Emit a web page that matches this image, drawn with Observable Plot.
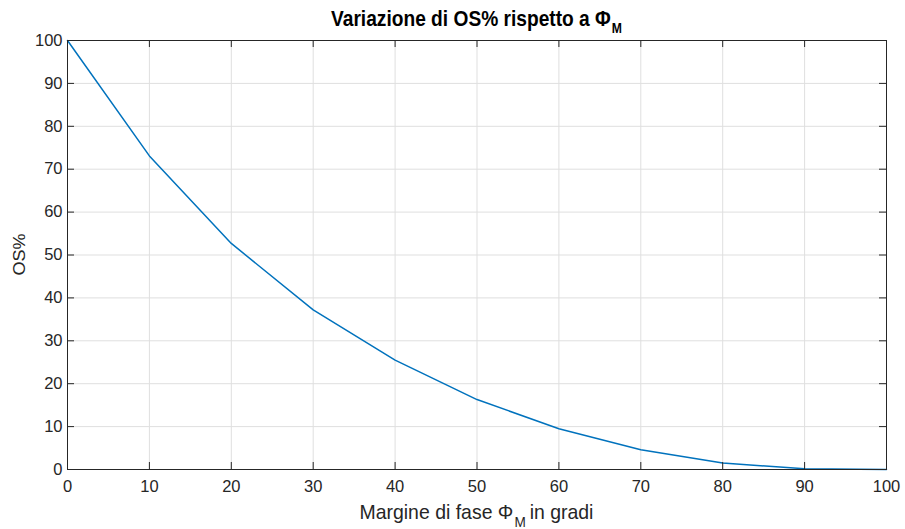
<!DOCTYPE html>
<html>
<head>
<meta charset="utf-8">
<script src="https://cdn.jsdelivr.net/npm/d3@7"></script>
<script src="https://cdn.jsdelivr.net/npm/@observablehq/plot@0.6"></script>
<style>
  html, body { margin: 0; padding: 0; background: #fff; }
  #chart svg { display: block; }
</style>
</head>
<body>
<div id="chart"></div>
<script>
// Data
const phaseMargin = [0, 10, 20, 30, 40, 50, 60, 70, 80, 90, 100];
const overshoot   = [100, 73.1, 52.7, 37.2, 25.5, 16.3, 9.5, 4.6, 1.5, 0.15, 0];
const xTicks = [0, 10, 20, 30, 40, 50, 60, 70, 80, 90, 100];
const yTicks = [0, 10, 20, 30, 40, 50, 60, 70, 80, 90, 100];

const titleMain = "Variazione di OS% rispetto a \u03A6";
const titleSub = "M";
const xLabelPre = "Margine di fase \u03A6";
const xLabelSub = "M";
const xLabelPost = "in gradi";
const yLabel = "OS%";

const data = phaseMargin.map((x, i) => ({x, y: overshoot[i]}));

const W = 905, H = 529;
const mL = 67, mR = 19, mT = 40, mB = 60;
const pw = W - mL - mR, ph = H - mT - mB;
const tickLen = 7;
const FONT = "'Liberation Sans', Arial, Helvetica, sans-serif";
const axisColor = "#262626";

const chart = Plot.plot({
  width: W,
  height: H,
  marginLeft: mL, marginRight: mR, marginTop: mT, marginBottom: mB,
  style: {fontFamily: FONT, fontSize: "16.5px", color: axisColor, background: "#fff"},
  x: {domain: [0, 100], ticks: xTicks, label: null},
  y: {domain: [0, 100], ticks: yTicks, label: null},
  marks: [
    Plot.gridX(xTicks, {stroke: "#dfdfdf", strokeOpacity: 1, strokeWidth: 1}),
    Plot.gridY(yTicks, {stroke: "#dfdfdf", strokeOpacity: 1, strokeWidth: 1}),
    Plot.line(data, {x: "x", y: "y", stroke: "#0072BD", strokeWidth: 1.5}),
    // inward ticks
    Plot.tickX(xTicks, {x: d => d, insetTop: ph - tickLen, stroke: axisColor, strokeWidth: 1}),
    Plot.tickX(xTicks, {x: d => d, insetBottom: ph - tickLen, stroke: axisColor, strokeWidth: 1}),
    Plot.tickY(yTicks, {y: d => d, insetRight: pw - tickLen, stroke: axisColor, strokeWidth: 1}),
    Plot.tickY(yTicks, {y: d => d, insetLeft: pw - tickLen, stroke: axisColor, strokeWidth: 1}),
    Plot.axisX(xTicks, {tickSize: 0, tickPadding: 11, label: null, fill: axisColor, fontSize: 16.5}),
    Plot.axisY(yTicks, {tickSize: 0, tickPadding: 5, label: null, fill: axisColor, fontSize: 16.5}),
    Plot.frame({stroke: axisColor, strokeWidth: 1})
  ]
});

document.getElementById("chart").appendChild(chart);

const svg = d3.select(chart);
const cx = mL + pw / 2;

// Build a horizontal label from parts; squeeze horizontally to the target width.
function label(parts, y, size, weight, fill, targetWidth) {
  const g = svg.append("g").attr("text-anchor", "start");
  let x = 0;
  for (const p of parts) {
    const el = g.append("text")
      .attr("x", x).attr("y", y + (p.sub ? p.sub : 0))
      .attr("text-anchor", "start")
      .attr("font-family", FONT)
      .attr("font-size", p.size || size)
      .attr("font-weight", weight)
      .attr("fill", fill)
      .text(p.text);
    const w = el.node().getComputedTextLength();
    x += w + (p.gap || 0);
  }
  const k = targetWidth / x;
  g.attr("transform", `translate(${cx - targetWidth / 2},0) scale(${k},1)`);
}

label([
  {text: titleMain, gap: 1},
  {text: titleSub, size: 14, sub: 7}
], 26, 22, "bold", "#000", 291);

label([
  {text: xLabelPre, gap: 1},
  {text: xLabelSub, size: 14, sub: 8, gap: 4},
  {text: xLabelPost}
], 519, 20, "normal", axisColor, 234);

svg.append("text")
  .attr("transform", `translate(25,${mT + ph / 2}) rotate(-90)`)
  .attr("text-anchor", "middle")
  .attr("font-family", FONT).attr("font-size", 17)
  .attr("textLength", 42).attr("lengthAdjust", "spacingAndGlyphs")
  .attr("fill", axisColor)
  .text(yLabel);
</script>
</body>
</html>
